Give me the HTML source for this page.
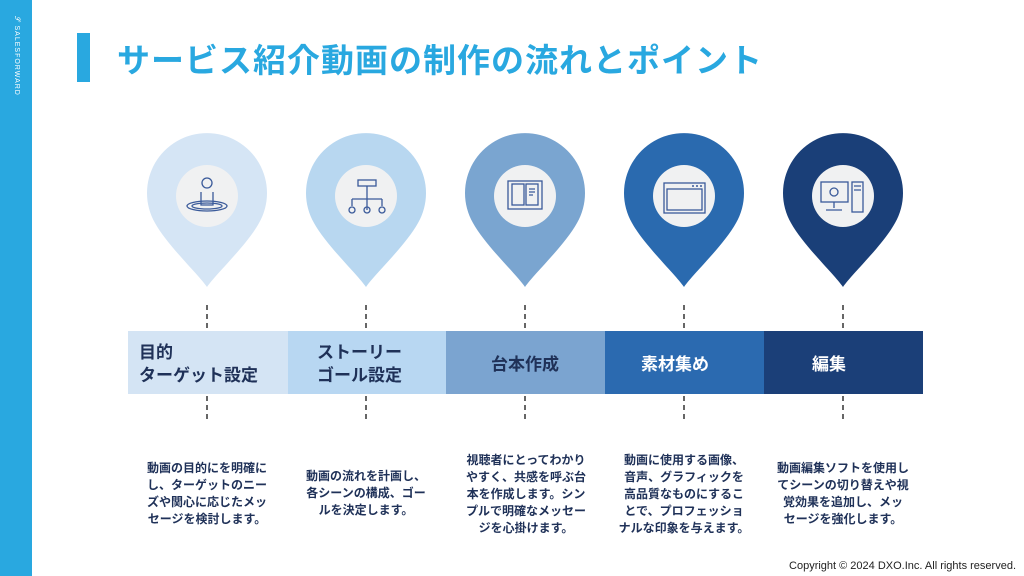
<!DOCTYPE html>
<html><head><meta charset="utf-8"><style>
body{margin:0;width:1024px;height:576px;overflow:hidden;background:#fff;font-family:"Liberation Sans","Noto Sans CJK JP",sans-serif;}
.side{position:absolute;left:0;top:0;width:32px;height:576px;background:#29a8e0;}
.brand{position:absolute;left:16px;top:56px;transform:translate(-50%,-50%) rotate(90deg);color:#fff;font-size:7px;letter-spacing:1px;white-space:nowrap;}
.tbar{position:absolute;left:77px;top:33px;width:13px;height:49px;background:#29a8e0;}
.title{position:absolute;left:117px;top:34px;font-size:33px;font-weight:bold;color:#29a8e0;letter-spacing:1px;white-space:nowrap;}
.desc{position:absolute;font-size:12px;font-weight:bold;color:#1f3158;line-height:17px;text-align:center;width:140px;}
.copy{position:absolute;right:8px;bottom:4px;font-size:11px;color:#222;}
</style></head><body>
<div class="side"></div>
<div class="brand">𝒮 SALESFORWARD</div>
<div class="tbar"></div>
<div class="title">サービス紹介動画の制作の流れとポイント</div>
<svg width="1024" height="576" style="position:absolute;left:0;top:0">
<defs><path id="pin" d="M0,94 C-8,82 -40,52 -52,30 A60,60 0 1 1 52,30 C40,52 8,82 0,94 Z"/></defs>
<use href="#pin" x="207" y="193" fill="#d5e5f5"/>
<use href="#pin" x="366" y="193" fill="#b8d7f0"/>
<use href="#pin" x="525" y="193" fill="#7aa5d0"/>
<use href="#pin" x="684" y="193" fill="#2a6aaf"/>
<use href="#pin" x="843" y="193" fill="#1a3f78"/>
<g fill="#f0f1f2"><circle cx="207" cy="196" r="31"/><circle cx="366" cy="196" r="31"/><circle cx="525" cy="196" r="31"/><circle cx="684" cy="196" r="31"/><circle cx="843" cy="196" r="31"/></g>
<g fill="none" stroke="#3a5a9a" stroke-width="1.3">
<circle cx="207" cy="183" r="5"/><path d="M201,192 L201,205 L213,205 L213,192"/><ellipse cx="207" cy="206" rx="20" ry="5"/><ellipse cx="207" cy="206" rx="15" ry="3"/>
<rect x="358" y="180" width="18" height="6"/><path d="M367,186 V210 M352,199 V206 M382,199 V206 M352,199 H382 M367,199 V206"/><circle cx="352" cy="210" r="3"/><circle cx="367" cy="210" r="3"/><circle cx="382" cy="210" r="3"/>
<rect x="508" y="181" width="34" height="28"/><rect x="512" y="184" width="12" height="21"/><rect x="526" y="184" width="12" height="21"/><path d="M529,189 h6 M529,192 h6 M529,195 h4"/>
<rect x="664" y="183" width="41" height="30"/><rect x="667" y="189" width="35" height="21"/>
<rect x="821" y="182" width="27" height="20"/><path d="M834,202 v6 M826,210 h16"/><circle cx="834" cy="192" r="4"/><rect x="852" y="182" width="11" height="30"/><path d="M854,186 h7 M854,190 h7"/>
</g>
<g fill="#3a5a9a"><circle cx="693" cy="186" r="1"/><circle cx="697" cy="186" r="1"/><circle cx="701" cy="186" r="1"/></g>
<rect x="128" y="331" width="160" height="63" fill="#d4e4f4"/>
<rect x="288" y="331" width="158" height="63" fill="#b8d7f2"/>
<rect x="446" y="331" width="159" height="63" fill="#7ba4d0"/>
<rect x="605" y="331" width="159" height="63" fill="#2b6ab0"/>
<rect x="764" y="331" width="159" height="63" fill="#1b3f78"/>
<g stroke="#333" stroke-width="1.5" stroke-dasharray="5,4">
<path d="M207,305 V330 M207,396 V420 M366,305 V330 M366,396 V420 M525,305 V330 M525,396 V420 M684,305 V330 M684,396 V420 M843,305 V330 M843,396 V420"/>
</g>
<g font-size="17" font-weight="bold" font-family="Liberation Sans, Noto Sans CJK JP, sans-serif">
<text x="139" y="358" fill="#1f3158">目的</text>
<text x="139" y="381" fill="#1f3158">ターゲット設定</text>
<text x="317" y="358" fill="#1f3158">ストーリー</text>
<text x="317" y="381" fill="#1f3158">ゴール設定</text>
<text x="525" y="370" fill="#1f3158" text-anchor="middle">台本作成</text>
<text x="675" y="370" fill="#fff" text-anchor="middle">素材集め</text>
<text x="829" y="370" fill="#fff" text-anchor="middle">編集</text>
</g>
</svg>
<div class="desc" style="left:137px;top:460px">動画の目的にを明確に<br>し、ターゲットのニー<br>ズや関心に応じたメッ<br>セージを検討します。</div>
<div class="desc" style="left:296px;top:468px">動画の流れを計画し、<br>各シーンの構成、ゴー<br>ルを決定します。</div>
<div class="desc" style="left:456px;top:452px">視聴者にとってわかり<br>やすく、共感を呼ぶ台<br>本を作成します。シン<br>プルで明確なメッセー<br>ジを心掛けます。</div>
<div class="desc" style="left:614px;top:452px">動画に使用する画像、<br>音声、グラフィックを<br>高品質なものにするこ<br>とで、プロフェッショ<br>ナルな印象を与えます。</div>
<div class="desc" style="left:773px;top:460px">動画編集ソフトを使用し<br>てシーンの切り替えや視<br>覚効果を追加し、メッ<br>セージを強化します。</div>
<div class="copy">Copyright © 2024 DXO.Inc. All rights reserved.</div>
</body></html>
